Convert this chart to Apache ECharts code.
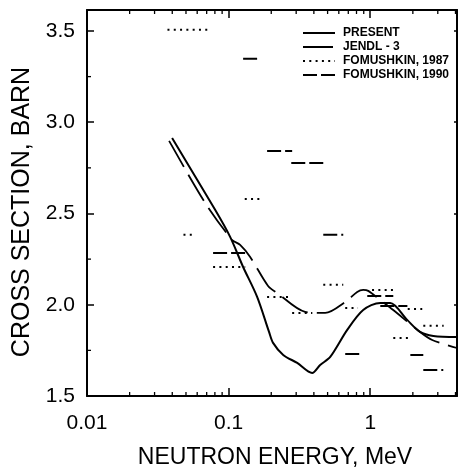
<!DOCTYPE html>
<html>
<head>
<meta charset="utf-8">
<script src="https://cdn.jsdelivr.net/npm/echarts@6/dist/echarts.min.js"></script>
<style>
html,body{margin:0;padding:0;background:#fff;}
#chart{width:458px;height:470px;}
</style>
</head>
<body>
<div id="chart"></div>
<script>
// ---- data (energy in MeV, cross section in barn) ----
const presentE = [0.0399, 0.0803, 0.1025, 0.1266, 0.159, 0.193, 0.206, 0.243, 0.305, 0.389, 0.443, 0.522, 0.688, 0.892, 1.177, 1.384, 1.824, 2.25, 2.79, 4.1];
const presentY = [2.914, 2.520, 2.372, 2.207, 2.043, 1.851, 1.791, 1.725, 1.681, 1.626, 1.670, 1.714, 1.862, 1.971, 2.010, 2.010, 1.917, 1.851, 1.829, 1.823];

const jendlE = [0.038, 0.0683, 0.106, 0.1206, 0.142, 0.190, 0.220, 0.347, 0.481, 0.666, 0.809, 0.892, 0.968, 1.177, 1.454, 2.25, 2.74, 4.1];
const jendlY = [2.898, 2.558, 2.355, 2.328, 2.262, 2.103, 2.065, 1.961, 1.955, 2.015, 2.070, 2.081, 2.076, 2.026, 1.971, 1.851, 1.807, 1.763];

// histogram bins: [E low, E high, value]
const fom1987Lo = [0.037, 0.048, 0.0777, 0.130, 0.187, 0.281, 0.466, 0.666, 1.03, 1.455, 1.84, 2.37];
const fom1987Hi = [0.073, 0.057, 0.131, 0.176, 0.281, 0.39, 0.645, 0.82, 1.455, 1.92, 2.33, 3.3];
const fom1987Y  = [3.507, 2.383, 2.207, 2.580, 2.043, 1.955, 2.109, 1.982, 2.081, 1.818, 1.977, 1.885];

const fom1990Lo = [0.1266, 0.187, 0.277, 0.0777, 0.466, 0.666, 0.953, 1.178, 1.92, 2.37];
const fom1990Hi = [0.1616, 0.281, 0.466, 0.135, 0.645, 0.849, 1.455, 1.83, 2.37, 3.28];
const fom1990Y  = [3.348, 2.843, 2.777, 2.284, 2.383, 1.730, 2.048, 1.993, 1.725, 1.643];

const xTickLabels = ['0.01', '0.1', '1'];
const yTickLabels = ['1.5', '2.0', '2.5', '3.0', '3.5'];
const xMinorTicks = [0.02, 0.03, 0.04, 0.05, 0.06, 0.07, 0.08, 0.09, 0.2, 0.3, 0.4, 0.5, 0.6, 0.7, 0.8, 0.9, 2, 3, 4];
const yMinorTicks = [1.75, 2.25, 2.75, 3.25];

const X_MIN = 0.01, X_MAX = 4.1, Y_MIN = 1.5, Y_MAX = 3.615;

function pairs(xs, ys) { return xs.map((x, i) => [x, ys[i]]); }
function bins(lo, hi, v) {
  const out = [];
  lo.forEach((l, i) => { out.push([l, v[i]], [hi[i], v[i]], [hi[i], null]); });
  return out;
}

const FONT = 'Liberation Sans, Arial, sans-serif';
const chart = echarts.init(document.getElementById('chart'), null, {renderer: 'canvas'});

const xLabelFmt = v => {
  const e = Math.log10(v);
  if (Math.abs(e - Math.round(e)) > 1e-6) return '';
  const idx = Math.round(e) + 2;
  return xTickLabels[idx] || '';
};
const yLabelFmt = v => {
  const s = v.toFixed(1);
  return yTickLabels.includes(s) ? s : '';
};

const option = {
  animation: false,
  backgroundColor: '#fff',
  grid: {left: 87, right: 1, top: 10, bottom: 74, containLabel: false, outerBoundsMode: 'none'},
  legend: {
    orient: 'vertical', left: 302, top: 27, padding: 0, itemGap: 2,
    itemWidth: 32, itemHeight: 10,
    itemStyle: {opacity: 0},
    textStyle: {fontFamily: FONT, fontWeight: 'bold', fontSize: 12, color: '#000', padding: [0, 0, 0, 3]},
    data: ['PRESENT', 'JENDL - 3', 'FOMUSHKIN, 1987', 'FOMUSHKIN, 1990']
  },
  xAxis: [
    {
      type: 'log', logBase: 10, min: X_MIN, max: X_MAX, position: 'bottom',
      name: 'NEUTRON ENERGY, MeV', nameLocation: 'middle', nameGap: 50,
      nameTextStyle: {fontFamily: FONT, fontSize: 23, color: '#000', padding: [0, 0, 0, 6]},
      axisLine: {show: true, lineStyle: {color: '#000', width: 2}},
      axisTick: {show: true, inside: true, length: 8, lineStyle: {color: '#000', width: 1.5}},
      axisLabel: {show: true, formatter: xLabelFmt, fontFamily: FONT, fontSize: 21, color: '#000', margin: 17, showMaxLabel: false},
      splitLine: {show: false}
    },
    {
      type: 'log', logBase: 10, min: X_MIN, max: X_MAX, position: 'top',
      axisLine: {show: true, lineStyle: {color: '#000', width: 2}},
      axisTick: {show: true, inside: true, length: 8, lineStyle: {color: '#000', width: 1.5}},
      axisLabel: {show: false},
      splitLine: {show: false}
    }
  ],
  yAxis: [
    {
      type: 'value', min: Y_MIN, max: Y_MAX, interval: 0.5, position: 'left',
      name: 'CROSS SECTION, BARN', nameLocation: 'middle', nameGap: 50, nameRotate: 90,
      nameTextStyle: {fontFamily: FONT, fontSize: 25, color: '#000', padding: [0, 18, 0, 0]},
      axisLine: {show: true, lineStyle: {color: '#000', width: 2}},
      axisTick: {show: true, inside: true, length: 7, lineStyle: {color: '#000', width: 1.5}},
      axisLabel: {show: true, formatter: yLabelFmt, fontFamily: FONT, fontSize: 21, color: '#000', margin: 12, showMaxLabel: false},
      splitLine: {show: false}
    },
    {
      type: 'value', min: Y_MIN, max: Y_MAX, interval: 0.5, position: 'right',
      axisLine: {show: true, lineStyle: {color: '#000', width: 2}},
      axisTick: {show: true, inside: true, length: 3, lineStyle: {color: '#000', width: 1.5}},
      axisLabel: {show: false},
      splitLine: {show: false}
    }
  ],
  series: [
    {
      name: 'PRESENT', type: 'line', data: pairs(presentE, presentY),
      smooth: 0.3, symbol: 'none', lineStyle: {color: '#000', width: 2}, itemStyle: {color: '#000'}
    },
    {
      name: 'JENDL - 3', type: 'line', data: pairs(jendlE, jendlY),
      smooth: 0.3, symbol: 'none', lineStyle: {color: '#000', width: 1.8, type: [30, 9]}, itemStyle: {color: '#000'}
    },
    {
      name: 'FOMUSHKIN, 1987', type: 'line', data: bins(fom1987Lo, fom1987Hi, fom1987Y),
      connectNulls: false, symbol: 'none', lineStyle: {color: '#000', width: 2, type: [2, 4.3]}, itemStyle: {color: '#000'}
    },
    {
      name: 'FOMUSHKIN, 1990', type: 'line', data: bins(fom1990Lo, fom1990Hi, fom1990Y),
      connectNulls: false, symbol: 'none', lineStyle: {color: '#000', width: 2, type: [14, 4]}, itemStyle: {color: '#000'}
    },
    {
      name: 'xminor', type: 'custom', clip: false, silent: true,
      data: xMinorTicks.map(v => [v, Y_MIN]),
      encode: {x: 0, y: 1},
      renderItem: (params, api) => {
        const v = api.value(0);
        const b = api.coord([v, Y_MIN]);
        const t = api.coord([v, Y_MAX]);
        const st = {stroke: '#000', lineWidth: 1.3};
        return {type: 'group', children: [
          {type: 'line', shape: {x1: b[0], y1: b[1], x2: b[0], y2: b[1] - 4}, style: st},
          {type: 'line', shape: {x1: t[0], y1: t[1], x2: t[0], y2: t[1] + 4}, style: st}
        ]};
      }
    },
    {
      name: 'yminor', type: 'custom', clip: false, silent: true,
      data: yMinorTicks.map(v => [X_MIN, v]),
      encode: {x: 0, y: 1},
      renderItem: (params, api) => {
        const v = api.value(1);
        const l = api.coord([X_MIN, v]);
        return {type: 'line', shape: {x1: l[0], y1: l[1], x2: l[0] + 4, y2: l[1]}, style: {stroke: '#000', lineWidth: 1.3}};
      }
    }
  ]
};
chart.setOption(option);
</script>
</body>
</html>
